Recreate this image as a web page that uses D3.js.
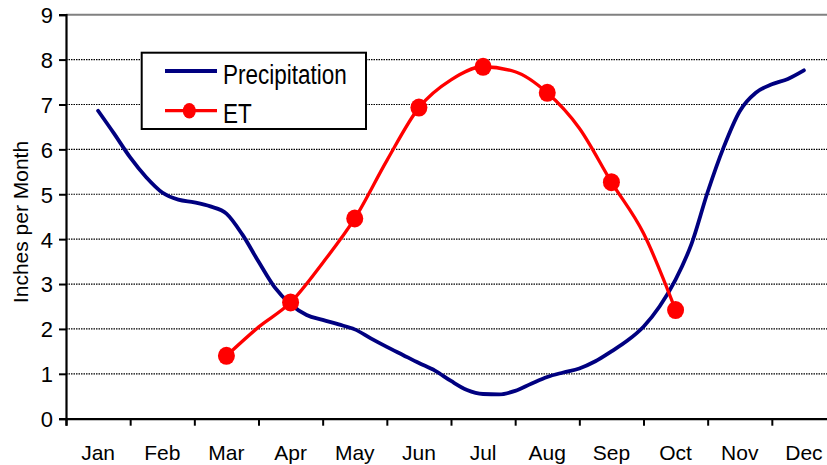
<!DOCTYPE html>
<html>
<head>
<meta charset="utf-8">
<script src="https://cdn.jsdelivr.net/npm/d3@7"></script>
<style>
  body { margin: 0; background: #fff; }
  svg { display: block; font-family: Arial, "Liberation Sans", sans-serif; }
</style>
</head>
<body>
<div id="chart"></div>
<script>
var months = ["Jan","Feb","Mar","Apr","May","Jun","Jul","Aug","Sep","Oct","Nov","Dec"];
var yTicks = [0,1,2,3,4,5,6,7,8,9];

// precipitation, read every quarter month from mid Jan to mid Dec
var precipPos = [0.5,0.75,1,1.25,1.5,1.75,2,2.25,2.5,2.75,3,3.25,3.5,3.75,4,4.25,4.5,4.75,5,5.25,5.5,5.75,6,6.25,6.5,6.75,7,7.25,7.5,7.75,8,8.25,8.5,8.75,9,9.25,9.5,9.75,10,10.25,10.5,10.75,11,11.25,11.5];
var precipVal = [6.86,6.35,5.82,5.38,5.04,4.88,4.82,4.73,4.57,4.10,3.50,2.93,2.55,2.31,2.20,2.10,1.99,1.79,1.60,1.42,1.24,1.07,0.84,0.64,0.55,0.54,0.62,0.78,0.93,1.03,1.12,1.28,1.50,1.74,2.05,2.50,3.10,3.90,5.05,6.05,6.85,7.26,7.45,7.57,7.76];

// ET, half month steps; markers only at the monthly values
var etPos = [2.5,3,3.5,4,4.5,5,5.5,6,6.5,7,7.5,8,8.5,9,9.5];
var etVal = [1.40,2.04,2.59,3.47,4.46,5.75,6.93,7.55,7.84,7.73,7.26,6.47,5.27,4.13,2.42];
var etMarkPos = [2.5,3.5,4.5,5.5,6.5,7.5,8.5,9.5];
var etMarkVal = [1.40,2.59,4.46,6.93,7.84,7.26,5.27,2.42];

var width = 827, height = 465;
var margin = {top: 14.7, left: 66};
var plotRight = 836, plotBottom = 418.7;

var svg = d3.select("#chart").append("svg")
    .attr("width", width)
    .attr("height", height);

var x = d3.scaleLinear().domain([0, 12]).range([margin.left, plotRight]);
var y = d3.scaleLinear().domain([0, 9]).range([plotBottom, margin.top]);

// gridlines
svg.append("g").selectAll("line")
  .data(yTicks.filter(function(d){ return d > 0; }))
  .enter().append("line")
    .attr("x1", margin.left).attr("x2", plotRight)
    .attr("y1", function(d){ return y(d); })
    .attr("y2", function(d){ return y(d); })
    .attr("stroke", function(d){ return d == 9 ? "#808080" : "#000"; })
    .attr("stroke-width", function(d){ return d == 9 ? 2 : 1.2; })
    .attr("stroke-dasharray", function(d){ return d == 9 ? null : "1.5,1"; });

// y axis
var yAxis = svg.append("g")
    .attr("transform", "translate(" + margin.left + ",0)")
    .call(d3.axisLeft(y).tickValues(yTicks).tickSize(7).tickPadding(6).tickFormat(d3.format("d")));
yAxis.select(".domain").attr("stroke", "#000").attr("stroke-width", 2.2);
yAxis.selectAll(".tick line").attr("stroke-width", 2);
yAxis.selectAll("text").style("font-size", "22px").attr("fill", "#000").attr("dy", "0.36em");

// x axis
var xAxis = svg.append("g")
    .attr("transform", "translate(0," + plotBottom + ")")
    .call(d3.axisBottom(x).tickValues(d3.range(0, 13)).tickSize(7).tickFormat(""));
xAxis.select(".domain").attr("stroke", "#000").attr("stroke-width", 2.2);
xAxis.selectAll(".tick line").attr("stroke-width", 2);

svg.append("g").selectAll("text")
  .data(months)
  .enter().append("text")
    .attr("x", function(d, i){ return x(i + 0.5); })
    .attr("y", 460)
    .attr("text-anchor", "middle")
    .style("font-size", "21px")
    .text(function(d){ return d; });

// y title
svg.append("text")
    .attr("transform", "translate(28," + 222 + ") rotate(-90)")
    .attr("text-anchor", "middle")
    .style("font-size", "21px")
    .text("Inches per Month");

// lines
var precipLine = d3.line()
    .x(function(d, i){ return x(precipPos[i]); })
    .y(function(d){ return y(d); })
    .curve(d3.curveMonotoneX);

var etLine = d3.line()
    .x(function(d, i){ return x(etPos[i]); })
    .y(function(d){ return y(d); })
    .curve(d3.curveMonotoneX);

svg.append("path")
    .datum(precipVal)
    .attr("fill", "none")
    .attr("stroke", "#000080")
    .attr("stroke-width", 3.8)
    .attr("stroke-linejoin", "round")
    .attr("stroke-linecap", "round")
    .attr("d", precipLine);

svg.append("path")
    .datum(etVal)
    .attr("fill", "none")
    .attr("stroke", "#ff0000")
    .attr("stroke-width", 3.3)
    .attr("stroke-linejoin", "round")
    .attr("d", etLine);

svg.append("g").selectAll("ellipse")
  .data(etMarkVal)
  .enter().append("ellipse")
    .attr("cx", function(d, i){ return x(etMarkPos[i]); })
    .attr("cy", function(d){ return y(d); })
    .attr("rx", 8.5)
    .attr("ry", 9)
    .attr("fill", "#ff0000");

// legend
var legend = svg.append("g");
legend.append("rect")
    .attr("x", 141.7).attr("y", 52.7)
    .attr("width", 224.3).attr("height", 76.3)
    .attr("fill", "#fff")
    .attr("stroke", "#000")
    .attr("stroke-width", 2);
legend.append("line")
    .attr("x1", 165).attr("x2", 217).attr("y1", 71).attr("y2", 71)
    .attr("stroke", "#000080").attr("stroke-width", 3.8);
legend.append("text")
    .attr("transform", "translate(223,84) scale(1,1.2)")
    .style("font-size", "22.5px")
    .text("Precipitation");
legend.append("line")
    .attr("x1", 165).attr("x2", 217).attr("y1", 110.7).attr("y2", 110.7)
    .attr("stroke", "#ff0000").attr("stroke-width", 3.3);
legend.append("ellipse")
    .attr("cx", 189.3).attr("cy", 110.7).attr("rx", 6.5).attr("ry", 7.8)
    .attr("fill", "#ff0000");
legend.append("text")
    .attr("transform", "translate(223,123) scale(1,1.2)")
    .style("font-size", "22.5px")
    .text("ET");
</script>
</body>
</html>
